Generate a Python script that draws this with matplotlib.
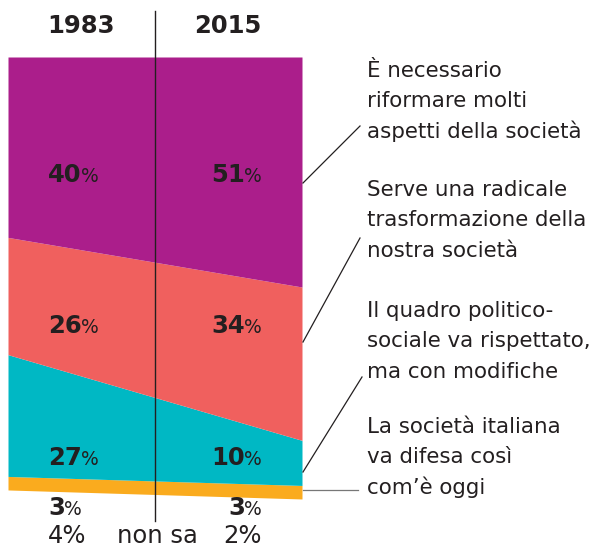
import numpy as np
import matplotlib
matplotlib.use("Agg")
import matplotlib.pyplot as plt
from matplotlib.lines import Line2D

# data (percent, bottom-up)
years = [1983, 2015]
non_sa = [4, 2]
difesa = [3, 3]
rispettato = [27, 10]
radicale = [26, 34]
riformare = [40, 51]

series = [difesa, rispettato, radicale, riformare]
colors = ["#FAAB1E", "#00B8C4", "#F0605E", "#AB1E8B"]
labels = ["È necessario\nriformare molti\naspetti della società",
          "Serve una radicale\ntrasformazione della\nnostra società",
          "Il quadro politico-\nsociale va rispettato,\nma con modifiche",
          "La società italiana\nva difesa così\ncom’è oggi"]

W, H = 597, 548
dark = "#231F20"
font = "DejaVu Sans"

fig = plt.figure(figsize=(W / 100, H / 100), dpi=100)
ax = fig.add_axes([8 / W, (H - 508) / H, 294 / W, 451 / H])
ax.set_xlim(years[0], years[1])
ax.set_ylim(0, 100)
ax.axis("off")

def px(x, y):
    return x / W, 1 - y / H

# stacked areas
base = np.array(non_sa, float)
for vals, c in zip(series, colors):
    top = base + np.array(vals)
    ax.fill_between(years, base, top, color=c, lw=0)
    base = top

# middle divider
mid = (years[0] + years[1]) / 2
ax.plot([mid, mid], [-2.9, 110.2], color=dark, lw=1, clip_on=False)

# years
fig.text(*px(47, 33), str(years[0]), ha="left", va="baseline", fontsize=17.5,
         fontweight="bold", family=font, color=dark)
fig.text(*px(262, 33), str(years[1]), ha="right", va="baseline", fontsize=17.5,
         fontweight="bold", family=font, color=dark)

renderer = fig.canvas.get_renderer()

def pct(x, y, v, align):
    # bold number followed by a regular percent sign
    t = fig.text(*px(x, y), str(v), ha="left", va="baseline", fontsize=17.5,
                 fontweight="bold", family=font, color=dark)
    bb = t.get_window_extent(renderer)
    p = fig.text((bb.x1 - 1) / W, 1 - y / H, "%", ha="left", va="baseline",
                 fontsize=13.5, family=font, color=dark)
    if align == "right":
        pb = p.get_window_extent(renderer)
        shift = (x - pb.x1) / W
        t.set_x(t.get_position()[0] + shift)
        p.set_x(p.get_position()[0] + shift)

# percent labels, left column and right column
pct_base = [515, 465, 333, 182]
for vals, yb in zip(series, pct_base):
    pct(48, yb, vals[0], "left")
    pct(262, yb, vals[1], "right")

fig.text(*px(48, 543), f"{non_sa[0]}%", ha="left", va="baseline", fontsize=17.5,
         family=font, color=dark)
fig.text(*px(157, 543), "non sa", ha="center", va="baseline", fontsize=17.5,
         family=font, color=dark)
fig.text(*px(262, 543), f"{non_sa[1]}%", ha="right", va="baseline", fontsize=17.5,
         family=font, color=dark)

# right-hand labels, one text per line so the baselines sit exactly
first_base = [77, 196, 317, 433]
for txt, yb in zip(labels, first_base):
    for i, line in enumerate(txt.split("\n")):
        fig.text(*px(367, yb + i * 30.3), line, ha="left", va="baseline",
                 fontsize=15.4, family=font, color=dark)

# leader lines
leaders = [((303, 183), (360, 126), dark),
           ((303, 342), (360, 238), dark),
           ((303, 472), (362, 377), dark),
           ((303, 490), (358, 490), "#777777")]
for (x0, y0), (x1, y1), c in leaders:
    a, b = px(x0, y0)
    cc, d = px(x1, y1)
    fig.add_artist(Line2D([a, cc], [b, d], color=c, lw=0.9))

fig.savefig("out.png", dpi=100)
